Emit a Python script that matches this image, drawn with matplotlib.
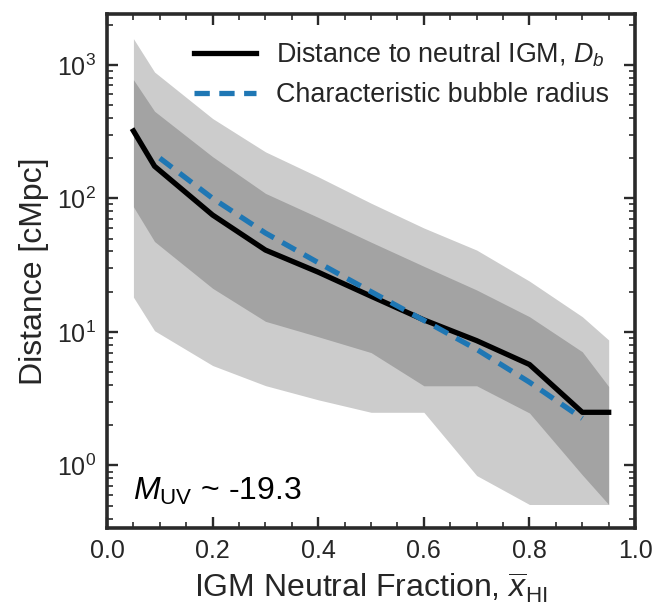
import matplotlib
matplotlib.use("Agg")
import matplotlib.pyplot as plt
from matplotlib.ticker import LogLocator, MultipleLocator, NullFormatter

plt.rcParams["font.family"] = ["Liberation Sans", "DejaVu Sans"]
plt.rcParams["mathtext.fontset"] = "custom"
plt.rcParams["mathtext.rm"] = "Liberation Sans"
plt.rcParams["mathtext.it"] = "Liberation Sans:italic"
plt.rcParams["mathtext.bf"] = "Liberation Sans:bold"

TEXT = "#262626"

# Neutral fraction grid for the distance distribution
x_hi = [0.05, 0.09, 0.2, 0.3, 0.4, 0.5, 0.6, 0.7, 0.8, 0.9, 0.95]
# Median distance to neutral IGM [cMpc]
d_median = [320, 174, 75, 41, 28, 18.5, 12.3, 8.6, 5.7, 2.5, 2.5]
# 68% interval
d_68_lo = [86.5, 47.5, 21.2, 12.0, 9.2, 7.0, 3.95, 3.95, 2.47, 0.85, 0.51]
d_68_hi = [774, 449, 205, 109, 72, 47, 31, 20.6, 13.0, 7.1, 3.9]
# 95% interval
d_95_lo = [18.2, 10.2, 5.6, 3.96, 3.1, 2.5, 2.5, 0.84, 0.51, 0.51, 0.51]
d_95_hi = [1570, 883, 396, 223, 145, 92, 60, 41, 24, 13, 8.7]

# Characteristic bubble radius
x_bub = [0.1, 0.2, 0.3, 0.4, 0.5, 0.6, 0.7, 0.8, 0.9]
r_bub = [200, 100, 55, 33, 20, 12.2, 7.4, 4.2, 2.25]

fig = plt.figure(figsize=(6.71, 6.10), dpi=100)
ax = fig.add_axes([0.1595, 0.1344, 0.7870, 0.8426])

ax.fill_between(x_hi, d_95_lo, d_95_hi, color="k", alpha=0.2, lw=0)
ax.fill_between(x_hi, d_68_lo, d_68_hi, color="k", alpha=0.2, lw=0)
ax.plot(x_hi, d_median, color="k", lw=3.8, label=r"Distance to neutral IGM, $D_b$")
ax.plot(x_bub, r_bub, color="#1f77b4", lw=3.8, ls="--", dashes=(2.9, 1.8),
        label="Characteristic bubble radius")

ax.set_yscale("log")
ax.set_xlim(0, 1)
ax.set_ylim(0.34, 2400)

ax.xaxis.set_major_locator(MultipleLocator(0.2))
ax.xaxis.set_minor_locator(MultipleLocator(0.05))
ax.yaxis.set_major_locator(LogLocator(base=10, numticks=10))
ax.yaxis.set_minor_locator(LogLocator(base=10, subs=range(2, 10), numticks=20))
ax.yaxis.set_minor_formatter(NullFormatter())

ax.tick_params(which="both", direction="in", top=True, right=True,
               colors="#2a2a2a", labelcolor=TEXT, labelsize=18)
ax.tick_params(which="major", length=8, width=1.7, pad=8)
ax.tick_params(which="minor", length=4, width=1.2)
for sp in ax.spines.values():
    sp.set_linewidth(2.6)
    sp.set_color("#2a2a2a")

ax.set_xlabel(r"IGM Neutral Fraction, $\overline{x}_{\rm HI}$", fontsize=23, color=TEXT, labelpad=6)
ax.set_ylabel("Distance [cMpc]", fontsize=23, color=TEXT, labelpad=6)

ax.text(0.05, 0.04, r"$M_{\rm UV}$ ~ -19.3", transform=ax.transAxes,
        fontsize=23, color="k", ha="left", va="bottom")

leg = ax.legend(loc="upper right", frameon=False, fontsize=19.4,
                handlelength=2.3, handletextpad=0.75, labelspacing=0.5,
                borderaxespad=0.57)
for t in leg.get_texts():
    t.set_color(TEXT)

fig.savefig("out.png", dpi=100)
